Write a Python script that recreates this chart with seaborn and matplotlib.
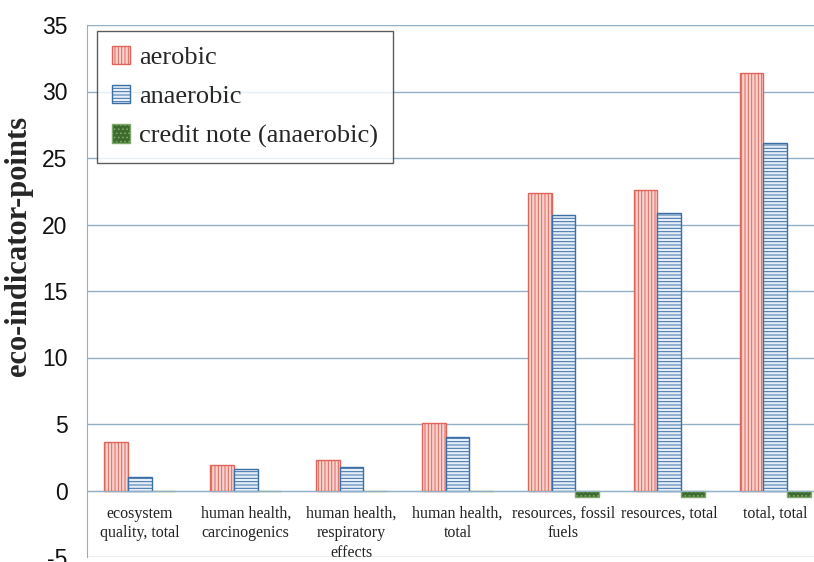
import numpy as np
import pandas as pd
import seaborn as sns
import matplotlib
matplotlib.use("Agg")
import matplotlib.pyplot as plt

# data
categories = ["ecosystem\nquality, total", "human health,\ncarcinogenics",
              "human health,\nrespiratory\neffects", "human health,\ntotal",
              "resources, fossil\nfuels", "resources, total", "total, total"]
series = ["aerobic", "anaerobic", "credit note (anaerobic)"]
aerobic = [3.68, 1.88, 2.26, 5.1, 22.4, 22.6, 31.4]
anaerobic = [1.05, 1.6, 1.8, 4.06, 20.7, 20.9, 26.1]
credit = [-0.03, -0.03, -0.03, -0.03, -0.5, -0.5, -0.5]

rows = []
for name, vals in zip(series, [aerobic, anaerobic, credit]):
    for c, v in zip(categories, vals):
        rows.append((c, name, v))
df = pd.DataFrame(rows, columns=["category", "series", "value"])

sns.set_style("white")
plt.rcParams["hatch.linewidth"] = 0.7
plt.rcParams["axes.unicode_minus"] = False

grid_col = "#8fb0c6"
faces = ["#f9d3ce", "#e6eef8", "#3d6a2e"]
edges = ["#e0645a", "#3a6fa6", "#7fa86a"]
hatches = ["|||||", "-----", "...."]

fig = plt.figure(figsize=(8.14, 5.62), dpi=100)
ax = fig.add_axes([87 / 814, 1 - 557 / 562, 741 / 814, 532 / 562])

sns.barplot(data=df, x="category", y="value", hue="series", order=categories,
            hue_order=series, width=0.67, ax=ax, legend=False)

for i, cont in enumerate(ax.containers):
    for p in cont.patches:
        p.set_facecolor(faces[i])
        p.set_edgecolor(edges[i])
        p.set_hatch(hatches[i])
        p.set_linewidth(1.0)

ax.set_xlim(-0.5, 6.5)
ax.set_ylim(-5, 35)
ax.set_yticks(np.arange(-5, 36, 5))
ax.yaxis.grid(True, color=grid_col, linewidth=1.0)
ax.set_axisbelow(True)

for s in ["top", "right"]:
    ax.spines[s].set_visible(False)
ax.spines["left"].set_color(grid_col)
ax.spines["bottom"].set_color(grid_col)
ax.spines["bottom"].set_position(("data", 0))

ax.set_xticks(range(len(categories)))
ax.set_xticklabels(categories, fontfamily="Liberation Serif", fontsize=11.5,
                   color="#222222", linespacing=1.3)
ax.set_xticks(np.arange(-0.5, 7, 1), minor=True)
ax.tick_params(axis="x", which="major", length=0, pad=11)
ax.tick_params(axis="x", which="minor", length=5, color=grid_col, direction="out")
ax.tick_params(axis="y", length=5, color=grid_col, labelsize=16.5, pad=9,
               labelcolor="#111111")
for t in ax.get_yticklabels():
    t.set_fontfamily("Liberation Sans")

ax.set_xlabel("")
ax.set_ylabel("eco-indicator-points", fontfamily="Liberation Serif",
              fontweight="bold", fontsize=22)
ax.yaxis.set_label_coords(-0.073, 0.585)

leg = ax.legend(ax.containers, series, loc="upper left",
                bbox_to_anchor=(10 / 741, 1 - 6 / 532),
                prop={"family": "Liberation Serif", "size": 19},
                frameon=True, fancybox=False, edgecolor="#333333",
                handlelength=0.7, handleheight=0.7, handletextpad=0.35,
                labelspacing=0.6, borderpad=0.55, borderaxespad=0)
leg.get_frame().set_linewidth(1.0)

fig.savefig("out.png", dpi=100, facecolor="white")
